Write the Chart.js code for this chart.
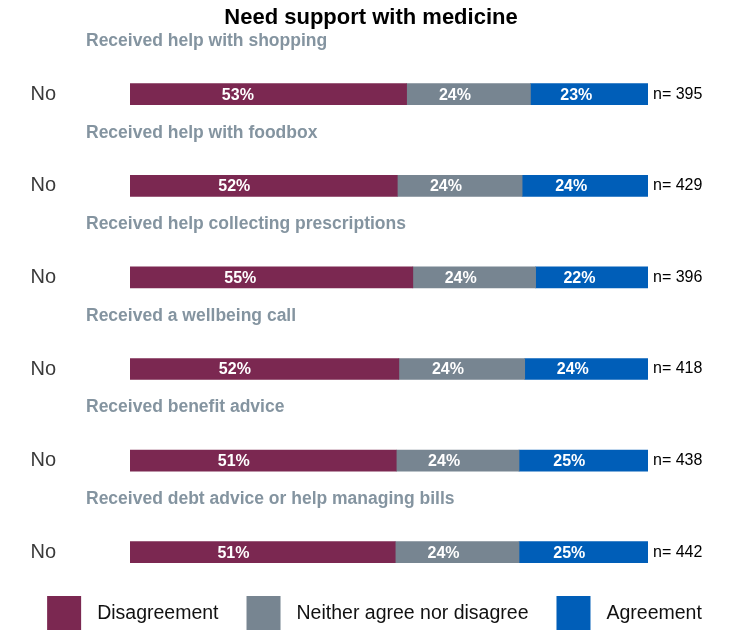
<!DOCTYPE html>
<html><head><meta charset="utf-8">
<script src="https://cdn.jsdelivr.net/npm/chart.js@4.4.1/dist/chart.umd.min.js"></script>
<style>html,body{margin:0;padding:0;background:#fff;overflow:hidden}canvas{display:block}</style>
</head><body><canvas id="c" width="730" height="630" style="width:730px;height:630px"></canvas>
<script>
const chartTitle = 'Need support with medicine';
const groups = ['Received help with shopping', 'Received help with foodbox', 'Received help collecting prescriptions', 'Received a wellbeing call', 'Received benefit advice', 'Received debt advice or help managing bills'];
const rowLabels = ['No', 'No', 'No', 'No', 'No', 'No'];
const nLabels = ['n= 395', 'n= 429', 'n= 396', 'n= 418', 'n= 438', 'n= 442'];
const seriesNames = ['Disagreement', 'Neither agree nor disagree', 'Agreement'];
const disagreement = [53.4, 51.6, 54.6, 51.9, 51.4, 51.2];
const neither = [23.9, 24.1, 23.7, 24.3, 23.7, 23.9];
const agreement = [22.7, 24.3, 21.7, 23.8, 24.9, 24.9];
const colors = ['#7b2851', '#778591', '#005eb8'];

const FONT = "'Liberation Sans', Arial, Helvetica, sans-serif";
Chart.defaults.font.family = FONT;

const overlay = {
  id: 'overlay',
  afterDatasetsDraw(chart) {
    const ctx = chart.ctx;
    ctx.save();
    ctx.font = "bold 16px " + FONT;
    ctx.fillStyle = '#ffffff';
    ctx.textAlign = 'center';
    ctx.textBaseline = 'middle';
    chart.data.datasets.forEach((ds, di) => {
      const meta = chart.getDatasetMeta(di);
      meta.data.forEach((el, i) => {
        const v = ds.data[i];
        const lx = el.base + 0.39 * (el.x - el.base);
        ctx.fillText(Math.round(v) + '%', lx, el.y + 1);
      });
    });
    const ys = chart.scales.y;
    ctx.font = "bold 17.5px " + FONT;
    ctx.fillStyle = '#8494a0';
    ctx.textAlign = 'left';
    groups.forEach((g, i) => {
      ctx.fillText(g, 86, ys.getPixelForValue(i) - 53);
    });
    ctx.font = "19.5px " + FONT;
    const box = 34, gapText = 16, gapItem = 28;
    const widths = chart.data.datasets.map(ds => box + gapText + ctx.measureText(ds.label).width);
    const total = widths.reduce((a, b) => a + b, 0) + gapItem * (widths.length - 1);
    let x = 374.5 - total / 2;
    const top = chart.chartArea.bottom - 2;
    chart.data.datasets.forEach((ds, di) => {
      ctx.fillStyle = ds.backgroundColor;
      ctx.fillRect(x, top, box, box);
      ctx.fillStyle = '#111111';
      ctx.textBaseline = 'middle';
      ctx.fillText(ds.label, x + box + gapText, top + box / 2 + 1);
      x += widths[di] + gapItem;
    });
    ctx.restore();
  }
};

new Chart(document.getElementById('c'), {
  type: 'bar',
  data: {
    labels: rowLabels,
    datasets: [
      { label: seriesNames[0], data: disagreement, backgroundColor: colors[0] },
      { label: seriesNames[1], data: neither, backgroundColor: colors[1] },
      { label: seriesNames[2], data: agreement, backgroundColor: colors[2] }
    ]
  },
  options: {
    indexAxis: 'y',
    responsive: false,
    animation: false,
    devicePixelRatio: 1,
    barThickness: 21,
    borderWidth: 0,
    layout: { padding: { left: 12, right: 0, top: 0, bottom: 32 } },
    scales: {
      x: { stacked: true, min: 0, max: 100, display: false },
      y: {
        stacked: true,
        position: 'left',
        grid: { display: false, drawTicks: false },
        border: { display: false },
        ticks: { color: '#3a3a3a', font: { size: 20 }, crossAlign: 'center', padding: 74 },
        afterFit(s) { s.width = 118; s.paddingTop = 0; s.paddingBottom = 0; }
      },
      y2: {
        type: 'category',
        axis: 'y',
        labels: nLabels,
        offset: true,
        position: 'right',
        grid: { display: false, drawTicks: false },
        border: { display: false },
        ticks: { color: '#000000', font: { size: 16 }, crossAlign: 'near', padding: 5 },
        afterFit(s) { s.width = 82; s.paddingTop = 0; s.paddingBottom = 0; }
      }
    },
    plugins: {
      legend: { display: false },
      tooltip: { enabled: false },
      title: {
        display: true,
        text: chartTitle,
        color: '#000000',
        font: { size: 22, weight: 'bold' },
        padding: { top: 5, bottom: 17 }
      }
    }
  },
  plugins: [overlay]
});
</script>
</body></html>
